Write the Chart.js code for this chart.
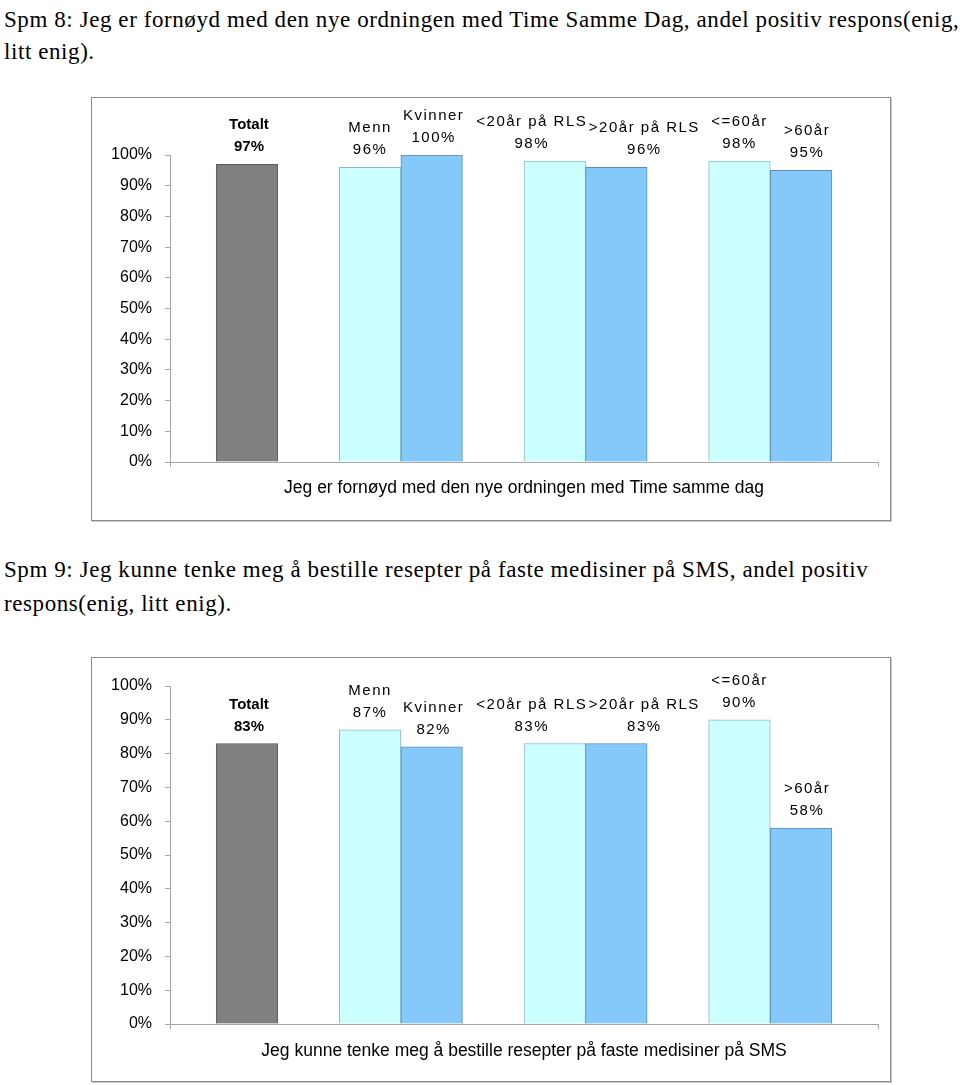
<!DOCTYPE html>
<html>
<head>
<meta charset="utf-8">
<script src="https://cdn.jsdelivr.net/npm/chart.js@4/dist/chart.umd.min.js"></script>
<style>
body { margin: 0; background: #fff; width: 960px; height: 1085px; position: relative; overflow: hidden; }
.heading { position: absolute; left: 4px; font-family: "Liberation Serif", serif; font-size: 23px; letter-spacing: 0.58px; color: #000; white-space: nowrap; }
.box { position: absolute; left: 91px; width: 798px; border: 1px solid #8c8c8c; box-shadow: 1px 1px 0 #c8c8c8; background: #fff; }
.box canvas { position: absolute; left: 0; top: 0; }
</style>
</head>
<body>
<div class="heading" id="h8" style="top:4px; line-height:32px;">Spm 8: Jeg er fornøyd med den nye ordningen med Time Samme Dag, andel positiv respons(enig,<br>litt enig).</div>
<div class="box" style="top:97px; height:422px;"><canvas id="chart8" width="798" height="422"></canvas></div>
<div class="heading" id="h9" style="top:553px; line-height:34px;">Spm 9: Jeg kunne tenke meg å bestille resepter på faste medisiner på SMS, andel positiv<br>respons(enig, litt enig).</div>
<div class="box" style="top:657px; height:423px;"><canvas id="chart9" width="798" height="423"></canvas></div>
<script>
// categories and the group each one belongs to (bars in a group stand side by side)
var categories = ["Totalt", "Menn", "Kvinner", "<20år på RLS", ">20år på RLS", "<=60år", ">60år"];
var groupOf = [0, 1, 1, 2, 2, 3, 3];
var values8 = [97, 96, 100, 98, 96, 98, 95];
var values9 = [83, 87, 82, 83, 83, 90, 58];
var yTicks = [0, 10, 20, 30, 40, 50, 60, 70, 80, 90, 100];
var title8 = "Jeg er fornøyd med den nye ordningen med Time samme dag";
var title9 = "Jeg kunne tenke meg å bestille resepter på faste medisiner på SMS";

var labelShift = [2, 0, 2, -23, 28, 0, 6];

function fillFor(i) {
    if (groupOf[i] === 0) return "#808080";
    return (i === 0 || groupOf[i - 1] !== groupOf[i]) ? "#CCFFFF" : "#85C8FA";
}
function borderFor(i) {
    if (groupOf[i] === 0) return "#5a5a5a";
    return (i === 0 || groupOf[i - 1] !== groupOf[i]) ? "#8fb9c2" : "#5b8db3";
}

var barLabels = {
    id: "barLabels",
    afterDatasetsDraw: function(chart) {
        var ctx = chart.ctx;
        var meta = chart.getDatasetMeta(0);
        var vals = chart.data.datasets[0].data;
        ctx.save();
        ctx.fillStyle = "#000";
        ctx.textAlign = "center";
        ctx.textBaseline = "middle";
        meta.data.forEach(function(bar, i) {
            var cx = bar.x + labelShift[i];
            var bold = groupOf[i] === 0;
            ctx.font = (bold ? "bold " : "") + "15px 'Liberation Sans', Arial, sans-serif";
            ctx.letterSpacing = bold ? "0px" : "1.5px";
            ctx.fillText(categories[i], cx, bar.y - 39);
            ctx.fillText(vals[i].y + "%", cx, bar.y - 17);
        });
        ctx.restore();
    }
};

function makeChart(id, values, title, padTop, padBottom, xHeight) {
    var data = categories.map(function(c, i) {
        return { x: i + groupOf[i], y: values[i] };
    });
    return new Chart(document.getElementById(id), {
        type: "bar",
        data: {
            datasets: [{
                data: data,
                backgroundColor: categories.map(function(c, i) { return fillFor(i); }),
                borderColor: categories.map(function(c, i) { return borderFor(i); }),
                borderWidth: 1,
                barPercentage: 1,
                categoryPercentage: 1
            }]
        },
        options: {
            responsive: false,
            animation: false,
            layout: { padding: { top: padTop, right: 12, bottom: padBottom, left: 0 } },
            plugins: { legend: { display: false }, tooltip: { enabled: false } },
            scales: {
                x: {
                    type: "linear",
                    offset: false,
                    min: -1.25,
                    max: 10.25,
                    afterBuildTicks: function(s) { s.ticks = [{ value: s.min }, { value: s.max }]; },
                    afterFit: function(s) { s.height = xHeight; },
                    grid: { offset: false, drawOnChartArea: false, tickLength: 5, color: "#a6a6a6" },
                    border: { color: "#a6a6a6" },
                    ticks: { display: false },
                    title: {
                        display: true,
                        text: title,
                        color: "#000",
                        padding: 0,
                        font: { family: "'Liberation Sans', Arial, sans-serif", size: 17.5 }
                    }
                },
                y: {
                    min: 0,
                    max: 100,
                    afterBuildTicks: function(s) { s.ticks = yTicks.map(function(v) { return { value: v }; }); },
                    afterFit: function(s) { s.width = 78; },
                    grid: { drawOnChartArea: false, tickLength: 5, color: "#a6a6a6" },
                    border: { color: "#a6a6a6" },
                    ticks: {
                        color: "#000",
                        padding: 13,
                        font: { family: "'Liberation Sans', Arial, sans-serif", size: 16 },
                        callback: function(v) { return v + "%"; }
                    }
                }
            }
        },
        plugins: [barLabels]
    });
}

makeChart("chart8", values8, title8, 57, 21, 37);
makeChart("chart9", values9, title9, 28, 19, 38);
</script>
</body>
</html>
